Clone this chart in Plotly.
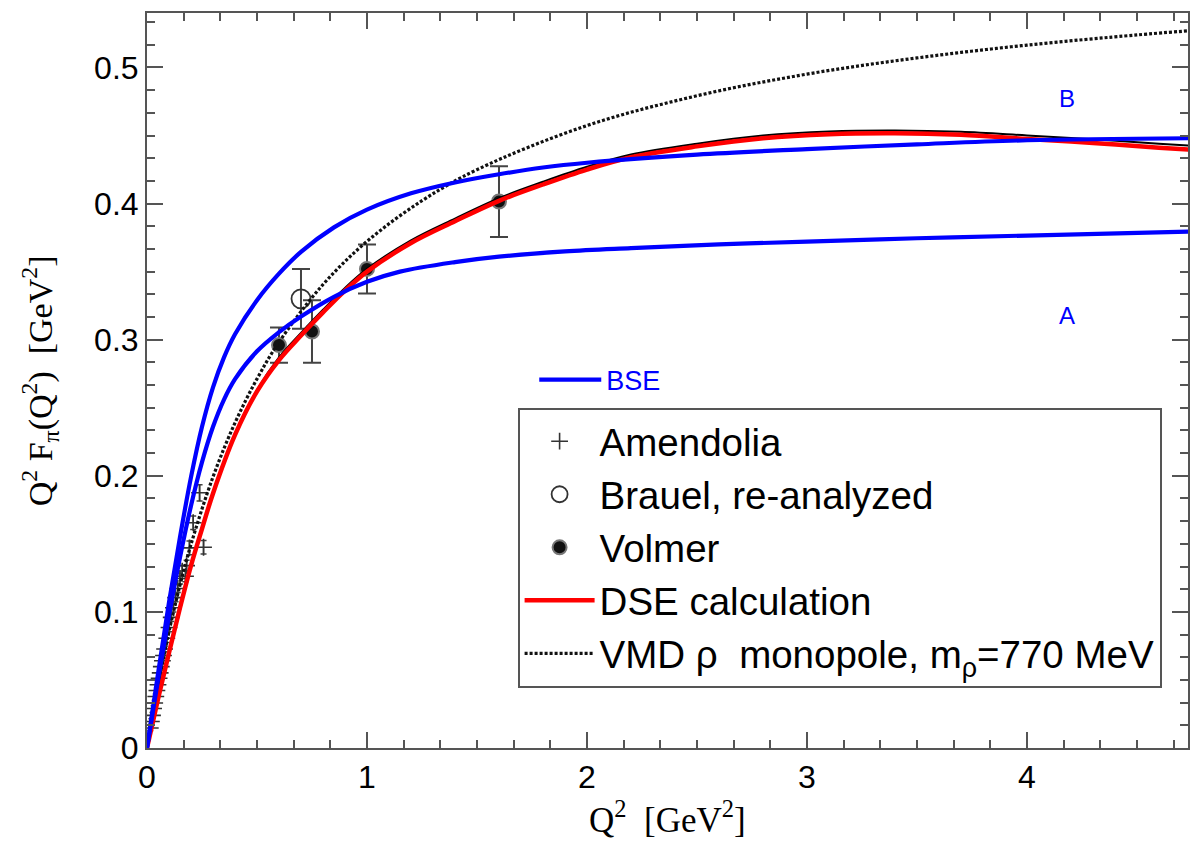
import plotly.graph_objects as go

# ---------------- data ----------------
# Amendolia (NA7) points
amend_q = [0.015, 0.020, 0.025, 0.030, 0.035, 0.040, 0.045, 0.050, 0.055, 0.060,
           0.065, 0.070, 0.075, 0.080, 0.090, 0.100, 0.110, 0.120, 0.130, 0.140,
           0.150, 0.160, 0.175, 0.180, 0.193, 0.210, 0.239, 0.257]
amend_v = [0.0147, 0.0195, 0.0240, 0.0290, 0.0331, 0.0378, 0.0423, 0.0465, 0.0512, 0.0552,
           0.0598, 0.0641, 0.0680, 0.0727, 0.0806, 0.0885, 0.0960, 0.1030, 0.1105, 0.1172,
           0.1245, 0.1300, 0.1262, 0.1340, 0.1470, 0.1655, 0.1875, 0.1475]
amend_err = [0.002, 0.002, 0.002, 0.002, 0.002, 0.002, 0.002, 0.002, 0.002, 0.002,
             0.002, 0.002, 0.002, 0.002, 0.003, 0.003, 0.003, 0.003, 0.003, 0.003,
             0.004, 0.004, 0.004, 0.004, 0.005, 0.005, 0.006, 0.005]

# Brauel, re-analyzed
brauel_q = [0.70]
brauel_v = [0.330]
brauel_err = [0.022]

# Volmer
volmer_q = [0.60, 0.75, 1.00, 1.60]
volmer_v = [0.296, 0.306, 0.352, 0.4015]
volmer_err = [0.013, 0.023, 0.018, 0.026]

# DSE calculation (red)
dse_q = [0.0, 0.05, 0.1, 0.15, 0.2, 0.25, 0.3, 0.4, 0.5, 0.6, 0.7, 0.8, 0.9, 1.0,
         1.2, 1.4, 1.6, 1.8, 2.0, 2.2, 2.5, 2.8, 3.1, 3.4, 3.7, 4.0, 4.3, 4.6, 4.75]
dse_v = [0.0, 0.036, 0.070, 0.103, 0.134, 0.161, 0.187, 0.230, 0.262, 0.285, 0.303, 0.320,
         0.336, 0.350, 0.371, 0.387, 0.402, 0.414, 0.425, 0.434, 0.442, 0.448, 0.451,
         0.4517, 0.4505, 0.4475, 0.4445, 0.441, 0.4395]
# thin black curve just underneath the red one
dse_black_v = [0.0, 0.036, 0.070, 0.103, 0.134, 0.161, 0.188, 0.231, 0.263, 0.287, 0.305, 0.322,
               0.338, 0.352, 0.373, 0.389, 0.404, 0.416, 0.427, 0.436, 0.444, 0.450, 0.453,
               0.4537, 0.4527, 0.4500, 0.4472, 0.4440, 0.4425]

# VMD rho monopole
vmd_q = [0.0, 0.05, 0.1, 0.15, 0.2, 0.3, 0.4, 0.5, 0.6, 0.8, 1.0, 1.25, 1.5, 2.0,
         2.5, 3.0, 3.5, 4.0, 4.5, 4.75]
vmd_v = [0.0, 0.0461, 0.0856, 0.1197, 0.1496, 0.1992, 0.2389, 0.2712, 0.2982, 0.3405,
         0.3722, 0.4021, 0.4249, 0.4573, 0.4792, 0.4951, 0.5070, 0.5164, 0.5239, 0.5271]

# BSE curve B (upper at large Q^2)
bse_b_q = [0.0, 0.05, 0.1, 0.15, 0.2, 0.25, 0.3, 0.35, 0.4, 0.5, 0.6, 0.7, 0.85, 1.0,
           1.2, 1.4, 1.6, 1.8, 2.0, 2.5, 3.0, 3.5, 4.0, 4.75]
bse_b_v = [0.0, 0.0545, 0.107, 0.155, 0.199, 0.236, 0.265, 0.287, 0.304, 0.329, 0.3485,
           0.3645, 0.3825, 0.3955, 0.4075, 0.4155, 0.4215, 0.4265, 0.4300, 0.4360,
           0.4400, 0.4435, 0.4465, 0.4480]

# BSE curve A (lower at large Q^2)
bse_a_q = [0.0, 0.05, 0.1, 0.15, 0.2, 0.25, 0.3, 0.35, 0.4, 0.5, 0.6, 0.7, 0.85, 1.0,
           1.15, 1.4, 1.6, 1.9, 2.2, 2.6, 3.0, 3.5, 4.0, 4.75]
bse_a_v = [0.0, 0.050, 0.097, 0.140, 0.178, 0.210, 0.236, 0.256, 0.271, 0.2915, 0.3055,
           0.317, 0.3315, 0.3425, 0.350, 0.357, 0.361, 0.3648, 0.3672, 0.370, 0.372,
           0.3745, 0.3765, 0.3795]

x_tickvals = [0, 1, 2, 3, 4]
y_tickvals = [0, 0.1, 0.2, 0.3, 0.4, 0.5]
y_ticktext = ["0", "0.1", "0.2", "0.3", "0.4", "0.5"]

# ---------------- styling ----------------
AX = "#555555"
BLUE = "#0000ff"
RED = "#ff0000"
SANS = "Liberation Sans, Arial, sans-serif"
SERIF = "Liberation Serif, Times New Roman, serif"

fig = go.Figure()

fig.add_trace(go.Scatter(
    x=amend_q, y=amend_v, mode="markers", name="Amendolia", legendrank=1, legendgroup="g1",
    marker=dict(symbol="cross-thin", size=12, color="#333333",
                line=dict(color="#333333", width=1.6)),
    error_y=dict(type="data", array=amend_err, color="#444444", thickness=1.5, width=3),
))
fig.add_trace(go.Scatter(
    x=brauel_q, y=brauel_v, mode="markers", name="Brauel, re-analyzed", legendrank=2,
    legendgroup="g2",
    marker=dict(symbol="circle-open", size=19, color="#333333",
                line=dict(color="#333333", width=1.8)),
    error_y=dict(type="data", array=brauel_err, color="#444444", thickness=2, width=9),
))
fig.add_trace(go.Scatter(
    x=volmer_q, y=volmer_v, mode="markers", name="Volmer", legendrank=3, legendgroup="g3",
    marker=dict(symbol="circle", size=14, color="#111111",
                line=dict(color="#777777", width=2)),
    error_y=dict(type="data", array=volmer_err, color="#444444", thickness=2, width=9),
))
fig.add_trace(go.Scatter(
    x=vmd_q, y=vmd_v, mode="lines", name="VMD \u03c1  monopole, m<sub>\u03c1</sub>=770 MeV",
    legendrank=5, legendgroup="g5",
    line=dict(color="#111111", width=3.2, dash="3px,2px", shape="spline"),
))
fig.add_trace(go.Scatter(
    x=dse_q, y=dse_black_v, mode="lines", showlegend=False,
    line=dict(color="#000000", width=2, shape="spline"),
))
fig.add_trace(go.Scatter(
    x=dse_q, y=dse_v, mode="lines", name="DSE calculation", legendrank=4, legendgroup="g4",
    line=dict(color=RED, width=4.5, shape="spline"),
))
fig.add_trace(go.Scatter(
    x=bse_a_q, y=bse_a_v, mode="lines", name="BSE", legend="legend2",
    line=dict(color=BLUE, width=4.2, shape="spline"),
))
fig.add_trace(go.Scatter(
    x=bse_b_q, y=bse_b_v, mode="lines", showlegend=False,
    line=dict(color=BLUE, width=4.2, shape="spline"),
))

axis_common = dict(
    showline=True, linecolor=AX, linewidth=2, mirror="ticks",
    ticks="inside", ticklen=16, tickwidth=2, tickcolor=AX,
    showgrid=False, zeroline=False,
    tickfont=dict(family=SANS, size=32, color="#000000"),
)

fig.update_layout(
    width=1190, height=843, autosize=False,
    margin=dict(l=146.7, r=0, t=12.7, b=94.5),
    plot_bgcolor="white", paper_bgcolor="white",
    xaxis=dict(range=[0, 4.732], tickvals=x_tickvals, ticklabelstandoff=0,
               minor=dict(dtick=1/6, tick0=0, ticks="inside", ticklen=8, tickwidth=2, tickcolor=AX),
               **axis_common),
    yaxis=dict(range=[0, 0.54], tickvals=y_tickvals, ticktext=y_ticktext, ticklabelstandoff=0,
               minor=dict(dtick=0.1/6, tick0=0, ticks="inside", ticklen=8, tickwidth=2, tickcolor=AX),
               **axis_common),
    legend=dict(x=0.356, y=0.463, xanchor="left", yanchor="top",
                bgcolor="white", bordercolor=AX, borderwidth=2,
                font=dict(family=SANS, size=38.5, color="#000000"),
                tracegroupgap=0, itemwidth=70),
    legend2=dict(x=0.372, y=0.534, xanchor="left", yanchor="top",
                 bgcolor="rgba(0,0,0,0)", borderwidth=0, itemwidth=62,
                 font=dict(family=SANS, size=27, color=BLUE)),
    showlegend=True,
)

# axis titles
fig.add_annotation(text="Q<sup>2</sup>  [GeV<sup>2</sup>]", xref="paper", yref="paper",
                   x=0.5, y=-0.0945, xanchor="center", yanchor="middle", showarrow=False,
                   font=dict(family=SERIF, size=35, color="#000000"))
fig.add_annotation(text="Q<sup>2</sup> F<sub>\u03c0</sub>(Q<sup>2</sup>)  [GeV<sup>2</sup>]",
                   xref="paper", yref="paper", x=-0.103, y=0.5, textangle=-90,
                   xanchor="center", yanchor="middle",
                   showarrow=False, font=dict(family=SERIF, size=34, color="#000000"))

# curve labels
fig.add_annotation(text="A", x=4.18, y=0.3175, xref="x", yref="y", showarrow=False,
                   font=dict(family=SANS, size=24, color=BLUE))
fig.add_annotation(text="B", x=4.18, y=0.477, xref="x", yref="y", showarrow=False,
                   font=dict(family=SANS, size=24, color=BLUE))

# the page's default 8px body margin would shift the figure; remove it
fig.write_html("out.html",
               config={"displayModeBar": False},
               post_script="document.body.style.margin='0';document.body.style.overflow='hidden';")
